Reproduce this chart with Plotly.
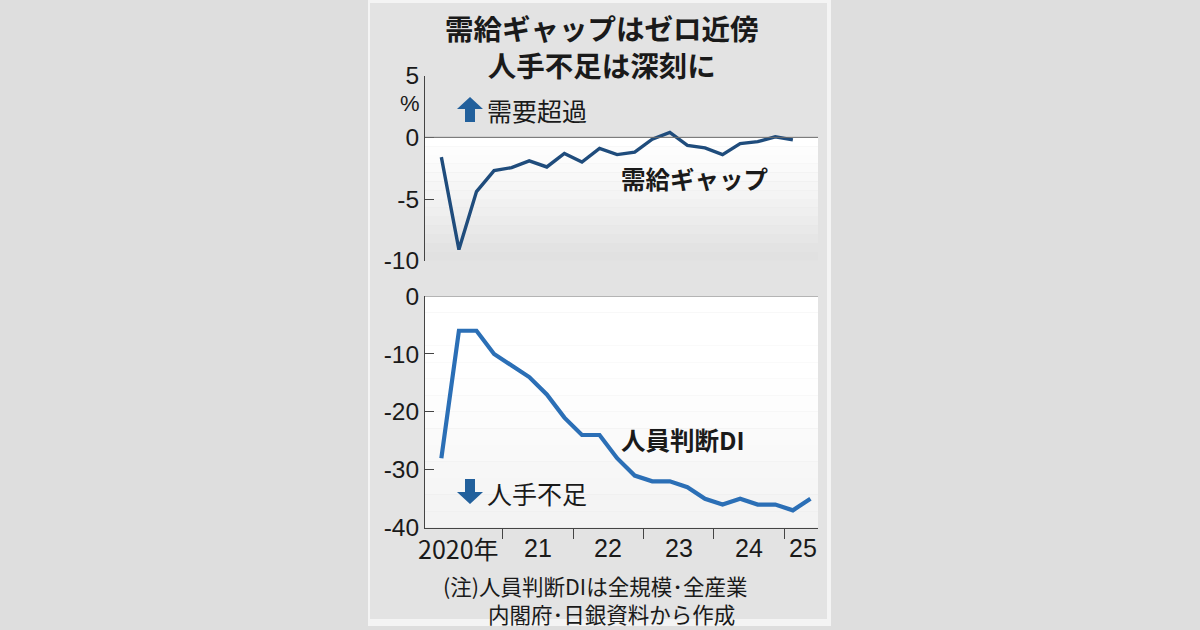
import plotly.graph_objects as go

W, H = 1200, 630
JP = "Noto Sans CJK JP"
NUM = "Liberation Sans"

# quarterly, 2020 Q1 onward
quarter_idx = list(range(22))
gap_pct = [-1.6, -9.1, -4.4, -2.7, -2.45, -1.9, -2.4, -1.3, -2.0, -0.9, -1.4,
           -1.2, -0.15, 0.4, -0.65, -0.85, -1.4, -0.5, -0.35, 0.05, -0.2]
employment_di = [-28, -6, -6, -10, -12, -14, -17, -21, -24, -24, -28, -31,
                 -32, -32, -33, -35, -36, -35, -36, -36, -37, -35]
year_labels = ["2020年", "21", "22", "23", "24", "25"]
gap_ticks = [5, 0, -5, -10]
di_ticks = [0, -10, -20, -30, -40]


def px(x):
    return x / W


def py(y):
    return 1 - y / H


def ann(text, x, y, size, bold=False, xanchor="left", yanchor="middle",
        family=JP):
    return dict(
        text=text, x=px(x), y=py(y), xref="paper", yref="paper",
        xanchor=xanchor, yanchor=yanchor, showarrow=False,
        font=dict(size=size, family=family, color="#1a1a1a",
                  weight="bold" if bold else "normal"),
    )


def path(points):
    s = "M " + " L ".join(f"{px(a):.5f},{py(b):.5f}" for a, b in points)
    return s + " Z"


x_domain = [425 / W, 818 / W]
x_range = [-0.93, 21.43]
year_breaks = [3.5 + 4 * k for k in range(5)]
label_x = [0.95] + [4 * k + 1.5 for k in range(1, 5)] + [20.6]

fig = go.Figure()
fig.add_trace(
    go.Scatter(
        x=quarter_idx[: len(gap_pct)], y=gap_pct, mode="lines",
        line={"color": "#1f4c7c", "width": 3.4}, xaxis="x", yaxis="y",
    )
)
fig.add_trace(
    go.Scatter(
        x=quarter_idx, y=employment_di, mode="lines",
        line={"color": "#2b6fb6", "width": 4.2}, xaxis="x2", yaxis="y2",
    )
)

shapes = [
    # outer white border and grey card
    dict(type="rect", xref="paper", yref="paper", x0=px(368), x1=px(831),
         y0=py(626), y1=py(0), fillcolor="#f4f4f4", line_width=0, layer="below"),
    dict(type="rect", xref="paper", yref="paper", x0=px(370), x1=px(827),
         y0=py(619), y1=py(3), fillcolor="#e3e3e3", line_width=0, layer="below"),
]

# soft white-to-grey fill inside the panels
n = 14
for k in range(n):
    t = k / (n - 1)
    c = int(255 - 30 * t ** 1.3)
    shapes.append(dict(type="rect", xref="x domain", yref="y", x0=0, x1=1,
                       y0=-10 * k / n, y1=-10 * (k + 1) / n,
                       fillcolor=f"rgb({c},{c},{c})", line_width=0, layer="below"))
for k in range(n):
    t = k / (n - 1)
    c = int(255 - 20 * max(0, t - 0.35) ** 1.2)
    shapes.append(dict(type="rect", xref="x2 domain", yref="y2", x0=0, x1=1,
                       y0=-40 * k / n, y1=-40 * (k + 1) / n,
                       fillcolor=f"rgb({c},{c},{c})", line_width=0, layer="below"))

shapes += [
    dict(type="line", xref="x domain", yref="y", x0=0, x1=1, y0=0, y1=0,
         line={"color": "#6a6a6a", "width": 1}),
    dict(type="line", xref="x2 domain", yref="y2", x0=0, x1=1, y0=0, y1=0,
         line={"color": "#6a6a6a", "width": 1}),
    # up / down arrows
    dict(type="path", xref="paper", yref="paper", line_width=0,
         fillcolor="#22609c",
         path=path([(457, 109), (470, 97), (483, 109), (475, 109), (475, 122),
                    (465, 122), (465, 109)])),
    dict(type="path", xref="paper", yref="paper", line_width=0,
         fillcolor="#22609c",
         path=path([(457, 492), (470, 504), (483, 492), (475, 492), (475, 479),
                    (465, 479), (465, 492)])),
]

annotations = [
    ann("需給ギャップはゼロ近傍<br>人手不足は深刻に", 602, 46.5, 28.5,
        bold=True, xanchor="center"),
    ann("%", 410, 104, 22, xanchor="center", family=NUM),
    ann("需要超過", 485, 110, 25),
    ann("需給ギャップ", 619, 178, 24.5, bold=True),
    ann("人員判断DI", 619, 439, 24.5, bold=True),
    ann("人手不足", 485, 493, 25),
    ann("(注)人員判断DIは全規模･全産業", 441, 585, 21.5),
    ann("内閣府･日銀資料から作成", 486, 613, 21.5),
]
annotations[0]["align"] = "center"
for lab, xv in zip(year_labels, label_x):
    annotations.append(dict(
        text=lab, x=xv, y=py(548), xref="x2", yref="paper", xanchor="center",
        yanchor="middle", showarrow=False,
        font=dict(size=25, family=NUM if lab != year_labels[0] else JP,
                  color="#1a1a1a"),
    ))

axis_font = {"size": 24.5, "family": NUM, "color": "#1a1a1a"}
common_y = {"ticks": "inside", "ticklen": 9, "tickcolor": "#444",
            "showline": True, "linecolor": "#444", "linewidth": 1,
            "showgrid": False, "zeroline": False, "tickfont": axis_font,
            "ticklabelstandoff": 0, "automargin": False}
fig.update_layout(
    template="none",
    width=W, height=H,
    autosize=False,
    margin={"l": 0, "r": 0, "t": 0, "b": 0, "pad": 0, "autoexpand": False},
    paper_bgcolor="#dedede",
    plot_bgcolor="rgba(0,0,0,0)",
    showlegend=False,
    xaxis={"domain": x_domain, "range": x_range, "visible": False,
           "anchor": "y", "automargin": False},
    yaxis={"domain": [py(260.7), py(75.7)], "range": [-10, 5],
           "tickvals": gap_ticks, "ticktext": [str(v) for v in gap_ticks],
           "anchor": "x", **common_y},
    xaxis2={"domain": x_domain, "range": x_range, "anchor": "y2",
            "tickvals": year_breaks, "ticktext": [""] * len(year_breaks),
            "ticks": "outside", "ticklen": 10, "tickcolor": "#444",
            "showline": True, "linecolor": "#444", "linewidth": 1,
            "showgrid": False, "zeroline": False, "automargin": False},
    yaxis2={"domain": [py(527.7), py(296)], "range": [-40, 0],
            "tickvals": di_ticks, "ticktext": [str(v) for v in di_ticks],
            "anchor": "x2", **common_y},
    shapes=shapes,
    annotations=annotations,
)

fig.write_html(
    "out.html",
    config={"displayModeBar": False},
    post_script="document.body.style.margin = '0';",
)
